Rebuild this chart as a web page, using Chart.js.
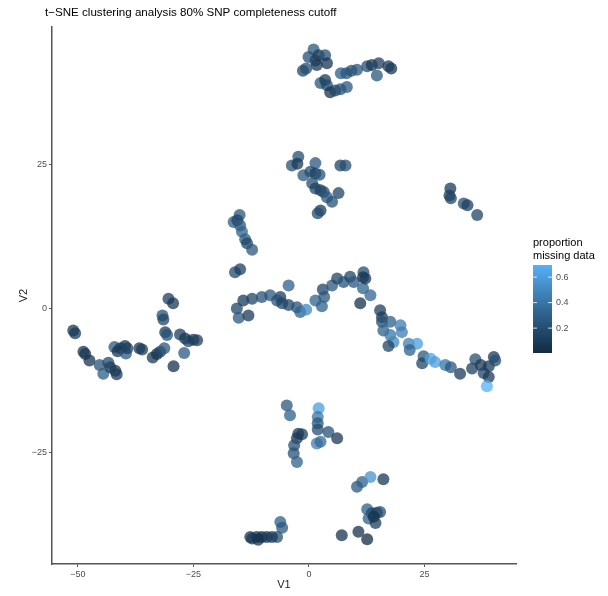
<!DOCTYPE html>
<html>
<head>
<meta charset="utf-8">
<script src="https://cdn.jsdelivr.net/npm/chart.js@4.4.0/dist/chart.umd.min.js"></script>
<style>
    html, body { margin: 0; padding: 0; background: #fff; }
    canvas { display: block; }
</style>
</head>
<body>
<canvas id="tsne-chart" width="608" height="596"></canvas>
<script>
const v1 = [
    -51.0, -50.6, -48.8, -48.4, -47.5, -45.3, -44.5, -43.4, -43.0, -41.9, -41.6, -42.1, -41.4, -40.8, -39.8, -39.6, -39.3, -36.7,
    -36.1, -33.8, -32.9, -32.2, -31.3, -29.3, -27.0, -31.7, -31.5, -30.4, -29.4, -31.1, -30.7, -27.9, -26.8, -26.1, -25.0, -24.2,
    1.0, -0.1, 1.4, 2.1, 3.5, 3.9, -1.3, -0.6, 1.7, 2.5, 3.5, 3.9, 4.6, 5.7, 6.8, 8.2, 6.9, 8.1, 9.2, 10.4, 12.6, 13.6, 15.1, 14.7, 17.8, 17.2,
    -2.3, -3.7, -2.5, 1.4, -1.2, 0.3, 1.4, 2.3, 0.7, 1.4, 2.5, 3.2, 3.9, 5.0, 6.4, 2.5, 1.9, 6.8, 7.9,
    -15.0, -16.3, -15.5, -14.9, -14.5, -13.8, -13.4, -12.3, -16.0, -14.9,
    -15.6, -15.2, -13.1, -14.2, -12.3, -10.2, -8.4, -6.2, -6.9, -5.8, -4.4, -4.4, -2.6, -1.9, -0.6, 1.4, 3.0, 3.3, 2.8, 5.0,
    6.1, 7.5, 8.9, 9.7, 11.8, 11.7, 11.7, 13.3, 11.1, 12.2,
    15.4, 15.8, 15.8, 17.6, 19.8, 20.1, 16.1, 17.6, 18.3, 17.2, 21.6, 23.4, 21.8, 24.8, 24.5, 26.3, 27.3, 29.5, 30.7, 32.7,
    35.3, 36.0, 37.2, 37.8, 38.9, 40.0, 40.3, 38.9, 38.5,
    30.6, 30.4, 30.7, 33.5, 34.3, 36.4,
    -4.8, -4.1, 2.1, 1.9, 1.9, 1.9, 4.2, 6.1, 1.7, 2.5, -2.3, -1.5, -2.6, -3.2, -3.3, -2.6,
    10.4, 11.5, 13.3, 16.1, 12.6, 13.6, 14.7, 15.4, 12.9, 14.4, 14.0, 7.1, 10.7, 12.6,
    -6.2, -5.8, -6.9, -8.0, -9.1, -10.2, -11.3, -12.3, -12.7, -11.0
];
const v2 = [
    -3.8, -4.3, -7.5, -7.9, -9.0, -9.8, -11.3, -9.4, -10.2, -10.8, -11.4, -6.7, -7.4, -6.9, -6.5, -7.8, -6.9, -6.9,
    -7.1, -8.5, -7.9, -7.5, -6.9, -10.0, -7.7, -1.2, -1.9, 1.7, 0.9, -4.1, -4.6, -4.5, -5.2, -5.7, -5.4, -5.5,
    44.9, 43.6, 43.0, 43.9, 43.9, 42.5, 41.2, 41.6, 42.2, 39.1, 39.6, 38.7, 37.5, 37.8, 38.0, 38.4, 40.8, 40.8, 41.2, 41.4, 42.0, 42.2, 42.5, 40.4, 41.6, 42.0,
    26.3, 24.8, 25.1, 25.2, 23.1, 23.7, 23.4, 23.2, 21.7, 20.8, 20.5, 20.2, 19.3, 18.5, 20.0, 17.0, 16.5, 24.8, 24.8,
    16.2, 15.0, 15.3, 14.4, 13.3, 12.0, 11.3, 10.2, 6.3, 6.8,
    0.0, -1.6, -1.2, 1.4, 1.7, 2.0, 2.3, 2.0, 1.4, 0.9, 4.0, 0.6, 0.2, -0.6, -0.2, 1.4, 3.3, 2.0, 0.4, 4.0,
    5.2, 4.6, 5.5, 4.6, 6.3, 5.4, 3.5, 2.3, 0.9, 5.2,
    -0.3, -1.5, -2.3, -2.3, -2.9, -4.1, -3.8, -4.6, -5.8, -6.5, -6.1, -6.1, -7.2, -8.3, -9.5, -8.7, -9.3, -9.8, -10.2, -11.3,
    -10.4, -8.8, -9.8, -11.2, -10.0, -8.4, -9.0, -11.9, -13.5,
    20.8, 19.6, 19.1, 18.2, 17.9, 16.2,
    -16.8, -18.5, -17.3, -18.8, -19.9, -21.0, -21.4, -22.5, -23.4, -23.1, -21.7, -21.8, -22.5, -23.7, -25.1, -26.6,
    -30.9, -30.1, -29.2, -29.6, -34.8, -35.5, -35.4, -35.3, -36.4, -37.2, -36.1, -39.3, -38.7, -40.0,
    -37.0, -38.0, -39.6, -39.6, -39.6, -39.6, -39.6, -39.9, -39.6, -40.1
];
const missing = [
    0.08, 0.10, 0.06, 0.08, 0.05, 0.22, 0.28, 0.18, 0.12, 0.08, 0.10, 0.25, 0.06, 0.10, 0.08, 0.26, 0.12, 0.08,
    0.10, 0.08, 0.06, 0.12, 0.24, 0.04, 0.26, 0.22, 0.15, 0.12, 0.08, 0.10, 0.22, 0.12, 0.08, 0.15, 0.10, 0.12,
    0.25, 0.22, 0.15, 0.10, 0.20, 0.06, 0.15, 0.20, 0.08, 0.25, 0.10, 0.18, 0.05, 0.15, 0.22, 0.25, 0.28, 0.25, 0.20, 0.25, 0.20, 0.08, 0.12, 0.25, 0.05, 0.10,
    0.20, 0.22, 0.08, 0.25, 0.25, 0.20, 0.10, 0.22, 0.20, 0.15, 0.12, 0.18, 0.25, 0.22, 0.15, 0.10, 0.18, 0.15, 0.20,
    0.25, 0.28, 0.15, 0.25, 0.30, 0.28, 0.15, 0.25, 0.18, 0.12,
    0.15, 0.25, 0.10, 0.10, 0.15, 0.22, 0.25, 0.12, 0.22, 0.15, 0.30, 0.15, 0.22, 0.30, 0.50, 0.32, 0.15, 0.25, 0.30, 0.25,
    0.15, 0.22, 0.15, 0.25, 0.20, 0.08, 0.30, 0.32, 0.04, 0.10,
    0.12, 0.10, 0.20, 0.30, 0.45, 0.45, 0.30, 0.40, 0.50, 0.15, 0.45, 0.60, 0.30, 0.25, 0.15, 0.62, 0.60, 0.40, 0.25, 0.10,
    0.12, 0.20, 0.08, 0.15, 0.10, 0.10, 0.20, 0.10, 0.695,
    0.10, 0.12, 0.15, 0.20, 0.12, 0.15,
    0.25, 0.30, 0.60, 0.40, 0.25, 0.20, 0.22, 0.08, 0.45, 0.35, 0.08, 0.12, 0.10, 0.20, 0.22, 0.30,
    0.25, 0.30, 0.55, 0.08, 0.30, 0.15, 0.10, 0.20, 0.30, 0.12, 0.05, 0.06, 0.04, 0.005,
    0.30, 0.25, 0.20, 0.10, 0.08, 0.06, 0.05, 0.08, 0.10, 0.05
];
const xTicks = [-50, -25, 0, 25];
const yTicks = [-25, 0, 25];
const legendTicks = [0.2, 0.4, 0.6];

const lowColour = '#132B43';
const highColour = '#56B1F7';
const missingMin = Math.min(...missing);
const missingMax = Math.max(...missing);
const fontFamily = '"Liberation Sans", Arial, Helvetica, sans-serif';

// ggplot blends its gradient in Lab space, so do the same here
function hexToLab(hex) {
    const rgb = [1, 3, 5].map(i => parseInt(hex.substr(i, 2), 16) / 255)
        .map(c => c <= 0.04045 ? c / 12.92 : Math.pow((c + 0.055) / 1.055, 2.4));
    const x = (0.4124 * rgb[0] + 0.3576 * rgb[1] + 0.1805 * rgb[2]) / 0.95047;
    const y = 0.2126 * rgb[0] + 0.7152 * rgb[1] + 0.0722 * rgb[2];
    const z = (0.0193 * rgb[0] + 0.1192 * rgb[1] + 0.9505 * rgb[2]) / 1.08883;
    const f = t => t > 0.008856 ? Math.cbrt(t) : 7.787 * t + 16 / 116;
    return [116 * f(y) - 16, 500 * (f(x) - f(y)), 200 * (f(y) - f(z))];
}

function labToRgb(lab) {
    const fy = (lab[0] + 16) / 116, fx = fy + lab[1] / 500, fz = fy - lab[2] / 200;
    const inv = t => t > 0.206893 ? t * t * t : (t - 16 / 116) / 7.787;
    const x = inv(fx) * 0.95047, y = inv(fy), z = inv(fz) * 1.08883;
    const lin = [
        3.2406 * x - 1.5372 * y - 0.4986 * z,
        -0.9689 * x + 1.8758 * y + 0.0415 * z,
        0.0557 * x - 0.2040 * y + 1.0570 * z
    ];
    return lin.map(c => {
        const s = c <= 0.0031308 ? 12.92 * c : 1.055 * Math.pow(c, 1 / 2.4) - 0.055;
        return Math.round(Math.min(1, Math.max(0, s)) * 255);
    });
}

const lowLab = hexToLab(lowColour);
const highLab = hexToLab(highColour);

function shade(value, alpha) {
    const t = (value - missingMin) / (missingMax - missingMin);
    const c = labToRgb(lowLab.map((lo, i) => lo + (highLab[i] - lo) * t));
    return `rgba(${c[0]}, ${c[1]}, ${c[2]}, ${alpha})`;
}

function minusLabel(value) {
    return value < 0 ? '\u2212' + Math.abs(value) : String(value);
}

const titleAndColourbar = {
    id: 'titleAndColourbar',
    afterDraw(chart) {
        const ctx = chart.ctx;
        ctx.save();
        ctx.fillStyle = '#000';
        ctx.textBaseline = 'middle';
        ctx.font = '11.6px ' + fontFamily;
        ctx.fillText('t\u2212SNE clustering analysis 80% SNP completeness cutoff', 45, 13);

        ctx.font = '11px ' + fontFamily;
        ctx.fillText('proportion', 533, 243);
        ctx.fillText('missing data', 533, 256);

        const barX = 533, barTop = 265, barW = 19, barH = 88;
        const grad = ctx.createLinearGradient(0, barTop + barH, 0, barTop);
        for (let i = 0; i <= 20; i++) {
            grad.addColorStop(i / 20, shade(missingMin + (missingMax - missingMin) * i / 20, 1));
        }
        ctx.fillStyle = grad;
        ctx.fillRect(barX, barTop, barW, barH);

        ctx.font = '9px ' + fontFamily;
        ctx.strokeStyle = 'rgba(255,255,255,0.8)';
        ctx.lineWidth = 1;
        legendTicks.forEach(v => {
            const y = barTop + barH - (v - missingMin) / (missingMax - missingMin) * barH;
            ctx.beginPath();
            ctx.moveTo(barX, y); ctx.lineTo(barX + 4, y);
            ctx.moveTo(barX + barW - 4, y); ctx.lineTo(barX + barW, y);
            ctx.stroke();
            ctx.fillStyle = '#4d4d4d';
            ctx.fillText(v.toFixed(1), 556, y);
        });
        ctx.restore();
    }
};

new Chart(document.getElementById('tsne-chart'), {
    type: 'scatter',
    data: {
        datasets: [{
            data: v1.map((x, i) => ({ x: x, y: v2[i] })),
            backgroundColor: ctx => shade(missing[ctx.dataIndex], 0.75),
            borderWidth: 0,
            pointRadius: 6,
            pointHoverRadius: 6
        }]
    },
    options: {
        responsive: false,
        animation: false,
        layout: {
            padding: { left: 17, right: 92, top: 27, bottom: 4 }
        },
        plugins: {
            legend: { display: false },
            tooltip: { enabled: false }
        },
        scales: {
            x: {
                type: 'linear',
                min: -55.6,
                max: 44.8,
                afterBuildTicks: scale => { scale.ticks = xTicks.map(v => ({ value: v })); },
                afterFit: scale => { scale.height = 28; },
                ticks: {
                    callback: minusLabel,
                    color: '#4d4d4d',
                    font: { size: 9, family: fontFamily },
                    padding: 2,
                    maxRotation: 0,
                    autoSkip: false
                },
                grid: { drawOnChartArea: false, tickLength: 3, color: '#555' },
                border: { color: '#555', width: 1.5 },
                title: { display: true, text: 'V1', color: '#222', font: { size: 11, family: fontFamily }, padding: 0 }
            },
            y: {
                type: 'linear',
                min: -44.3,
                max: 48.8,
                afterBuildTicks: scale => { scale.ticks = yTicks.map(v => ({ value: v })); },
                afterFit: scale => { scale.width = 35; },
                ticks: {
                    callback: minusLabel,
                    color: '#4d4d4d',
                    font: { size: 9, family: fontFamily },
                    padding: 2,
                    autoSkip: false
                },
                grid: { drawOnChartArea: false, tickLength: 3, color: '#555' },
                border: { color: '#555', width: 1.5 },
                title: { display: true, text: 'V2', color: '#222', font: { size: 11, family: fontFamily }, padding: 0 }
            }
        }
    },
    plugins: [titleAndColourbar]
});
</script>
</body>
</html>
